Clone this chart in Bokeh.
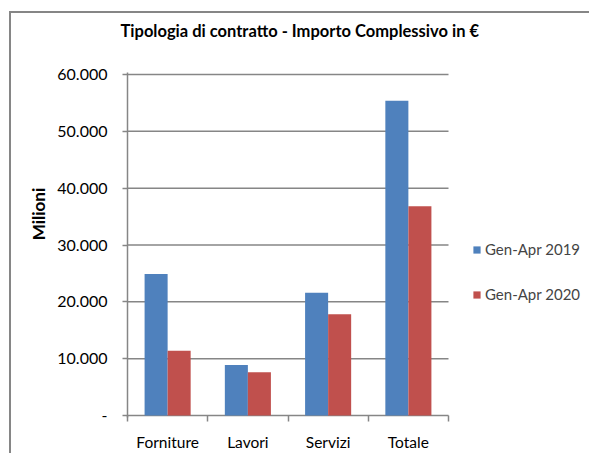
from bokeh.plotting import figure
from bokeh.models import (ColumnDataSource, FixedTicker, Legend, LegendItem,
                          Range1d, InlineStyleSheet, Title)
from bokeh.embed import file_html
from bokeh.resources import INLINE

categories = ["Forniture", "Lavori", "Servizi", "Totale"]
series_names = ["Gen-Apr 2019", "Gen-Apr 2020"]
values_2019 = [24900, 8900, 21600, 55400]
values_2020 = [11400, 7600, 17800, 36800]
y_ticks = [0, 10000, 20000, 30000, 40000, 50000, 60000]
colors = ["#4F81BD", "#C0504D"]

FONT = "Lato"
GRAY = "#868686"

W, H = 589, 453
LEFT, TOP, BOTTOM = 127, 72, 35
PLOT_W = 321          # width of the category area inside the frame
frame_w = W - LEFT
n = len(categories)

p = figure(width=W, height=H, output_backend="svg", toolbar_location=None, title=None,
           x_range=Range1d(0, n * frame_w / PLOT_W), y_range=Range1d(-350, 60350),
           min_border_left=LEFT, min_border_right=0, min_border_top=TOP,
           min_border_bottom=BOTTOM)

bar_w = 0.287
centers = [i + 0.5 for i in range(n)]
src19 = ColumnDataSource(dict(x=[c - bar_w / 2 for c in centers], top=values_2019))
src20 = ColumnDataSource(dict(x=[c + bar_w / 2 for c in centers], top=values_2020))

# horizontal gridlines (and category axis line at 0) over the category area only
p.segment(x0=[0] * len(y_ticks), x1=[n] * len(y_ticks), y0=y_ticks, y1=y_ticks,
          line_color=GRAY, line_width=1.5)

r1 = p.vbar(x="x", top="top", width=bar_w, source=src19, fill_color=colors[0], line_color=None)
r2 = p.vbar(x="x", top="top", width=bar_w, source=src20, fill_color=colors[1], line_color=None)

# x axis: labels at centers, ticks at category boundaries
p.xaxis.ticker = FixedTicker(ticks=centers, minor_ticks=list(range(n + 1)))
p.xaxis.major_label_overrides = {c: name for c, name in zip(centers, categories)}
p.xaxis.major_tick_line_color = None
p.xaxis.minor_tick_line_color = GRAY
p.xaxis.minor_tick_out = 4
p.xaxis.minor_tick_in = 2
p.xaxis.minor_tick_line_width = 1.5
p.xaxis.axis_line_color = None
p.xaxis.major_label_text_font = FONT
p.xaxis.major_label_text_font_size = "15.5px"
p.xaxis.major_label_text_color = "#000000"
p.xaxis.major_label_standoff = 9

# y axis
def fmt(v):
    return "-" if v == 0 else f"{v:,}".replace(",", ".")

p.yaxis.ticker = FixedTicker(ticks=y_ticks, minor_ticks=[])
p.yaxis.major_label_overrides = {v: fmt(v) for v in y_ticks}
p.yaxis.major_tick_line_color = GRAY
p.yaxis.major_tick_line_width = 1.5
p.yaxis.major_tick_out = 5
p.yaxis.major_tick_in = 0
p.yaxis.axis_line_color = GRAY
p.yaxis.axis_line_width = 1.5
p.yaxis.major_label_text_font = FONT
p.yaxis.major_label_text_font_size = "16px"
p.yaxis.major_label_text_color = "#000000"
p.yaxis.major_label_standoff = 15
p.yaxis.axis_label = "\u00a0" * 15 + "Milioni"
p.yaxis.axis_label_text_font = FONT
p.yaxis.axis_label_text_font_size = "17px"
p.yaxis.axis_label_text_font_style = "bold"
p.yaxis.axis_label_text_color = "#000000"
p.yaxis.axis_label_standoff = 5

p.xgrid.grid_line_color = None
p.ygrid.grid_line_color = None
p.outline_line_color = None

# spacer (closest to the frame) then the real title above it
p.add_layout(Title(text=" ", text_font_size="10px", standoff=19), "above")
p.add_layout(Title(text="Tipologia di contratto - Importo Complessivo in €",
                   text_font=FONT, text_font_size="16.5px", text_font_style="bold",
                   text_color="#000000", align="left", offset=-7, standoff=0), "above")

legend = Legend(items=[LegendItem(label=series_names[0], renderers=[r1]),
                       LegendItem(label=series_names[1], renderers=[r2])],
                location=(345, 113), orientation="vertical",
                border_line_color=None, background_fill_alpha=0,
                label_text_font=FONT, label_text_font_size="15px",
                glyph_width=9, glyph_height=9, label_standoff=4,
                spacing=25, label_height=20, padding=0, margin=0)
p.add_layout(legend, "center")

p.stylesheets = [InlineStyleSheet(css=(
    ":host { position: relative; }"
    ":host::after { content: ''; position: absolute; left: 9px; top: 11px;"
    " width: 800px; height: 800px; border-left: 2px solid #868686;"
    " border-top: 2px solid #868686; pointer-events: none; }"))]

open("out.html", "w").write(file_html(p, INLINE))
